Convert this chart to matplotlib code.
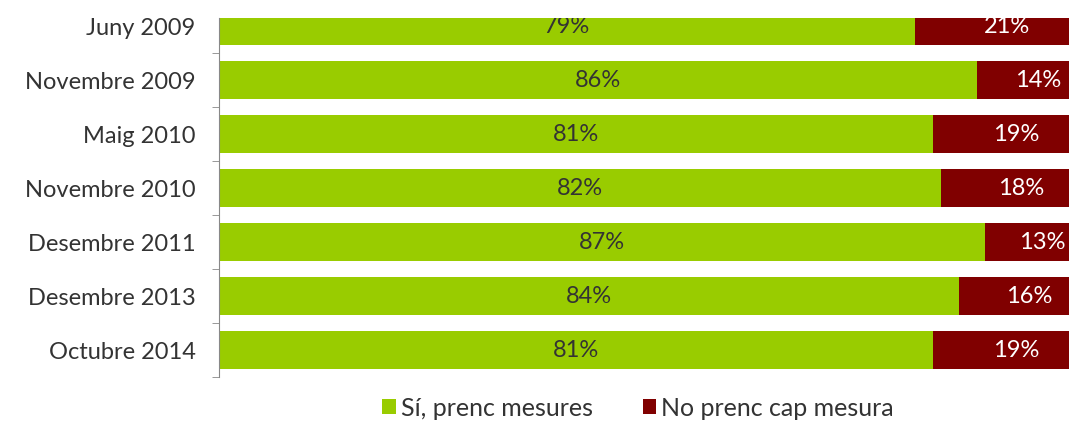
import matplotlib
matplotlib.use("Agg")
import matplotlib.pyplot as plt
import numpy as np

# values
periods = ["Juny 2009", "Novembre 2009", "Maig 2010", "Novembre 2010",
           "Desembre 2011", "Desembre 2013", "Octubre 2014"]
si_mesures = [79, 86, 81, 82, 87, 84, 81]
no_mesures = [21, 14, 19, 18, 13, 16, 19]
series_names = ["Sí, prenc mesures", "No prenc cap mesura"]

green = "#99CC00"
red = "#800000"
txt = "#333333"
fs = 17

plt.rcParams["font.family"] = ["Lato", "DejaVu Sans"]

fig = plt.figure(figsize=(10.69, 4.21), dpi=100)
W, H = 1069, 421
# the original picture is cropped on the top and right
ax = fig.add_axes([219 / W, (H - 377) / H, 881 / W, 359 / H])

y = np.arange(len(periods))
ax.barh(y, si_mesures, height=0.7, color=green, label=series_names[0])
ax.barh(y, no_mesures, left=si_mesures, height=0.7, color=red, label=series_names[1])

for i in range(len(periods)):
    ax.text(si_mesures[i] / 2, y[i], f"{si_mesures[i]}%", ha="center", va="center",
            fontsize=fs, color=txt, clip_on=True)
    ax.text(si_mesures[i] + no_mesures[i] / 2, y[i], f"{no_mesures[i]}%", ha="center",
            va="center", fontsize=fs, color="white", clip_on=True)

ax.set_xlim(0, 100)
ax.set_ylim(6.5, -0.15)
ax.set_yticks(y)
ax.set_yticklabels(periods, fontsize=fs, color=txt)
ax.tick_params(axis="y", length=0, pad=17)
ax.set_yticks(np.arange(0.5, 7, 1), minor=True)
ax.tick_params(axis="y", which="minor", length=5, color="#888888")
ax.set_xticks([])
for s in ["top", "right", "bottom"]:
    ax.spines[s].set_visible(False)
ax.spines["left"].set_color("#888888")

fig.legend(loc="center", bbox_to_anchor=(638 / W, 1 - 408 / H), ncol=2, frameon=False,
           fontsize=18, handlelength=0.55, handleheight=0.55, handletextpad=0.2,
           columnspacing=2.0, labelcolor=txt)

fig.savefig("out.png", dpi=100)
